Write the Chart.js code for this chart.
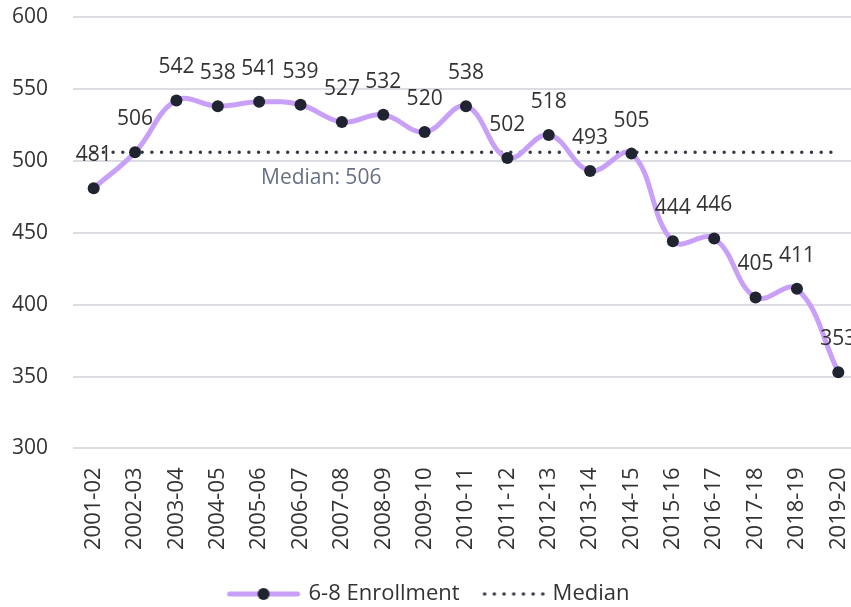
<!DOCTYPE html>
<html>
<head>
<meta charset="utf-8">
<script src="https://cdn.jsdelivr.net/npm/chart.js@4.4.1/dist/chart.umd.min.js"></script>
<style>
    html, body { margin: 0; padding: 0; background: #fff; overflow: hidden; }
    #wrap { position: relative; width: 889px; height: 607px; }
</style>
</head>
<body>
<div id="wrap"><canvas id="enrollChart"></canvas></div>
<script>
// chart data
const years = ['2001-02', '2002-03', '2003-04', '2004-05', '2005-06', '2006-07', '2007-08',
    '2008-09', '2009-10', '2010-11', '2011-12', '2012-13', '2013-14', '2014-15',
    '2015-16', '2016-17', '2017-18', '2018-19', '2019-20'];
const enrollment = [481, 506, 542, 538, 541, 539, 527, 532, 520, 538, 502, 518, 493, 505, 444, 446, 405, 411, 353];
const medianValue = 506;
const medianLine = years.map(function() { return medianValue; });
const yTicks = [300, 350, 400, 450, 500, 550, 600];

const purple = '#c9a0f7';
const dotColor = '#1f2430';
const textColor = '#333333';
const fontFamily = '"Open Sans", "Noto Sans", sans-serif';

// legend swatches (line with point, dotted line)
function makeSwatch(kind) {
    var c = document.createElement('canvas');
    c.width = 80;
    c.height = 16;
    var g = c.getContext('2d');
    if (kind === 'line') {
        g.strokeStyle = purple;
        g.lineWidth = 5;
        g.lineCap = 'round';
        g.beginPath();
        g.moveTo(6, 8);
        g.lineTo(74, 8);
        g.stroke();
        g.fillStyle = dotColor;
        g.beginPath();
        g.arc(40, 8, 6, 0, Math.PI * 2);
        g.fill();
    } else {
        g.fillStyle = '#333a45';
        for (var i = 0; i < 7; i++) {
            g.beginPath();
            g.arc(17 + i * 9.7, 8, 1.8, 0, Math.PI * 2);
            g.fill();
        }
    }
    return c;
}
const lineSwatch = makeSwatch('line');
const dotSwatch = makeSwatch('dots');

// value labels above the points
const valueLabels = {
    id: 'valueLabels',
    afterDatasetsDraw: function(chart) {
        var ctx = chart.ctx;
        var meta = chart.getDatasetMeta(0);
        ctx.save();
        ctx.font = '21px ' + fontFamily;
        ctx.fillStyle = textColor;
        ctx.textAlign = 'center';
        ctx.textBaseline = 'middle';
        meta.data.forEach(function(pt, i) {
            ctx.fillText(String(enrollment[i]), pt.x, pt.y - 33);
        });
        ctx.restore();
    }
};

// median caption under the dotted line
const medianCaption = {
    id: 'medianCaption',
    afterDatasetsDraw: function(chart) {
        var ctx = chart.ctx;
        var xs = chart.scales.x;
        var ys = chart.scales.y;
        var x = (xs.getPixelForValue(5) + xs.getPixelForValue(6)) / 2;
        var y = ys.getPixelForValue(medianValue) + 26;
        ctx.save();
        ctx.font = '21px ' + fontFamily;
        ctx.fillStyle = '#687184';
        ctx.textAlign = 'center';
        ctx.textBaseline = 'middle';
        ctx.fillText('Median: ' + medianValue, x, y);
        ctx.restore();
    }
};

const ctx = document.getElementById('enrollChart');
const enrollChart = new Chart(ctx, {
    type: 'line',
    data: {
        labels: years,
        datasets: [{
            label: '6-8 Enrollment',
            data: enrollment,
            borderColor: purple,
            borderWidth: 5,
            tension: 0.4,
            pointRadius: 6,
            pointBackgroundColor: dotColor,
            pointBorderColor: dotColor,
            pointBorderWidth: 0,
            order: 0
        }, {
            label: 'Median',
            data: medianLine,
            borderColor: '#333a45',
            borderWidth: 3.5,
            borderDash: [0, 9.7],
            borderCapStyle: 'round',
            pointRadius: 0,
            tension: 0,
            order: 1
        }]
    },
    options: {
        responsive: true,
        maintainAspectRatio: false,
        animation: false,
        layout: {
            padding: { top: 17, left: 0, right: 30, bottom: -8 }
        },
        scales: {
            x: {
                offset: true,
                grid: { display: false, drawTicks: false },
                border: { display: false },
                ticks: {
                    color: textColor,
                    font: { size: 22, family: fontFamily },
                    minRotation: 90,
                    maxRotation: 90,
                    padding: 19,
                    autoSkip: false
                },
                afterFit: function(axis) {
                    axis.paddingLeft = 0;
                    axis.paddingRight = 0;
                }
            },
            y: {
                min: 300,
                max: 600,
                afterBuildTicks: function(axis) {
                    axis.ticks = yTicks.map(function(v) { return { value: v }; });
                },
                grid: { color: '#dcdce3', lineWidth: 2, drawTicks: false },
                border: { display: false },
                ticks: {
                    color: textColor,
                    font: { size: 21, family: fontFamily },
                    padding: 25
                },
                afterFit: function(axis) {
                    axis.width = 73;
                    axis.paddingTop = 0;
                    axis.paddingBottom = 0;
                }
            }
        },
        plugins: {
            legend: {
                position: 'bottom',
                labels: {
                    usePointStyle: true,
                    pointStyleWidth: 68,
                    color: textColor,
                    font: { size: 22, family: fontFamily },
                    padding: 14,
                    generateLabels: function() {
                        return [
                            { text: '6-8 Enrollment', pointStyle: lineSwatch, fontColor: textColor, lineWidth: 0, datasetIndex: 0 },
                            { text: 'Median', pointStyle: dotSwatch, fontColor: textColor, lineWidth: 0, datasetIndex: 1 }
                        ];
                    }
                }
            },
            tooltip: { enabled: false }
        }
    },
    plugins: [valueLabels, medianCaption]
});
</script>
</body>
</html>
